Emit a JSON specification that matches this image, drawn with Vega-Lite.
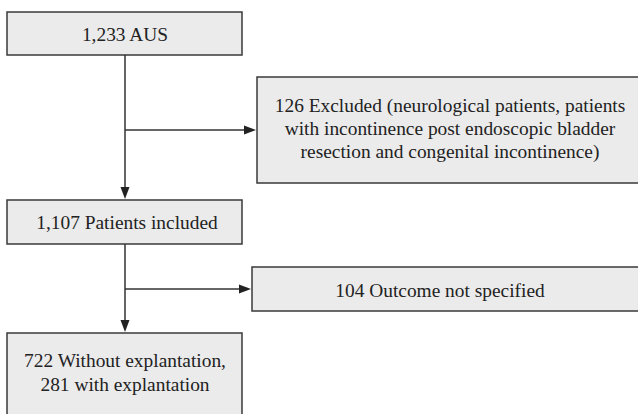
{
  "$schema": "https://vega.github.io/schema/vega-lite/v6.json",
  "width": 638,
  "height": 414,
  "padding": 0,
  "autosize": {"type": "fit", "contains": "padding"},
  "background": "white",
  "config": {"view": {"stroke": null}},
  "datasets": {
    "boxes": [
      {"id": "aus", "x1": 7, "x2": 242, "y1": 12, "y2": 55},
      {"id": "excluded", "x1": 257, "x2": 645, "y1": 77, "y2": 183},
      {"id": "included", "x1": 7, "x2": 242, "y1": 200, "y2": 244},
      {"id": "unspecified", "x1": 252, "x2": 645, "y1": 267, "y2": 311},
      {"id": "outcome", "x1": 7, "x2": 242, "y1": 333, "y2": 420}
    ],
    "lines": [
      {"x1": 125, "y1": 55, "x2": 125, "y2": 190},
      {"x1": 125, "y1": 130, "x2": 246, "y2": 130},
      {"x1": 125, "y1": 244, "x2": 125, "y2": 323},
      {"x1": 125, "y1": 289, "x2": 241, "y2": 289}
    ],
    "arrows": [
      {"x": 125, "y": 199, "dir": "down"},
      {"x": 125, "y": 332, "dir": "down"},
      {"x": 256, "y": 130, "dir": "right"},
      {"x": 251, "y": 289, "dir": "right"}
    ],
    "labels": [
      {"x": 125, "y": 41, "text": "1,233 AUS"},
      {"x": 450, "y": 112, "text": "126 Excluded (neurological patients, patients"},
      {"x": 450, "y": 135, "text": "with incontinence post endoscopic bladder"},
      {"x": 450, "y": 158, "text": "resection and congenital incontinence)"},
      {"x": 127, "y": 229, "text": "1,107 Patients included"},
      {"x": 440, "y": 297, "text": "104 Outcome not specified"},
      {"x": 125, "y": 367, "text": "722 Without explantation,"},
      {"x": 125, "y": 391, "text": "281 with explantation"}
    ]
  },
  "layer": [
    {
      "data": {"name": "boxes"},
      "mark": {"type": "rect", "fill": "#ebebeb", "stroke": "#3a3a3a", "strokeWidth": 1.5, "clip": true},
      "encoding": {
        "x": {"field": "x1", "type": "quantitative", "scale": {"domain": [0, 638], "nice": false, "zero": false}, "axis": null},
        "x2": {"field": "x2"},
        "y": {"field": "y1", "type": "quantitative", "scale": {"domain": [0, 414], "nice": false, "zero": false, "reverse": true}, "axis": null},
        "y2": {"field": "y2"}
      }
    },
    {
      "data": {"name": "lines"},
      "mark": {"type": "rule", "stroke": "#333333", "strokeWidth": 1.5},
      "encoding": {
        "x": {"field": "x1", "type": "quantitative"},
        "x2": {"field": "x2"},
        "y": {"field": "y1", "type": "quantitative"},
        "y2": {"field": "y2"}
      }
    },
    {
      "data": {"name": "arrows"},
      "transform": [{"filter": "datum.dir === 'down'"}],
      "mark": {"type": "point", "shape": "M-0.75,-2L0.75,-2L0,0Z", "size": 144, "filled": true, "fill": "#222222", "strokeWidth": 0, "opacity": 1},
      "encoding": {
        "x": {"field": "x", "type": "quantitative"},
        "y": {"field": "y", "type": "quantitative"}
      }
    },
    {
      "data": {"name": "arrows"},
      "transform": [{"filter": "datum.dir === 'right'"}],
      "mark": {"type": "point", "shape": "M-2,-0.75L-2,0.75L0,0Z", "size": 144, "filled": true, "fill": "#222222", "strokeWidth": 0, "opacity": 1},
      "encoding": {
        "x": {"field": "x", "type": "quantitative"},
        "y": {"field": "y", "type": "quantitative"}
      }
    },
    {
      "data": {"name": "labels"},
      "mark": {"type": "text", "font": "Liberation Serif", "fontSize": 19.4, "fill": "#222222", "align": "center", "baseline": "alphabetic"},
      "encoding": {
        "x": {"field": "x", "type": "quantitative"},
        "y": {"field": "y", "type": "quantitative"},
        "text": {"field": "text", "type": "nominal"}
      }
    }
  ]
}
